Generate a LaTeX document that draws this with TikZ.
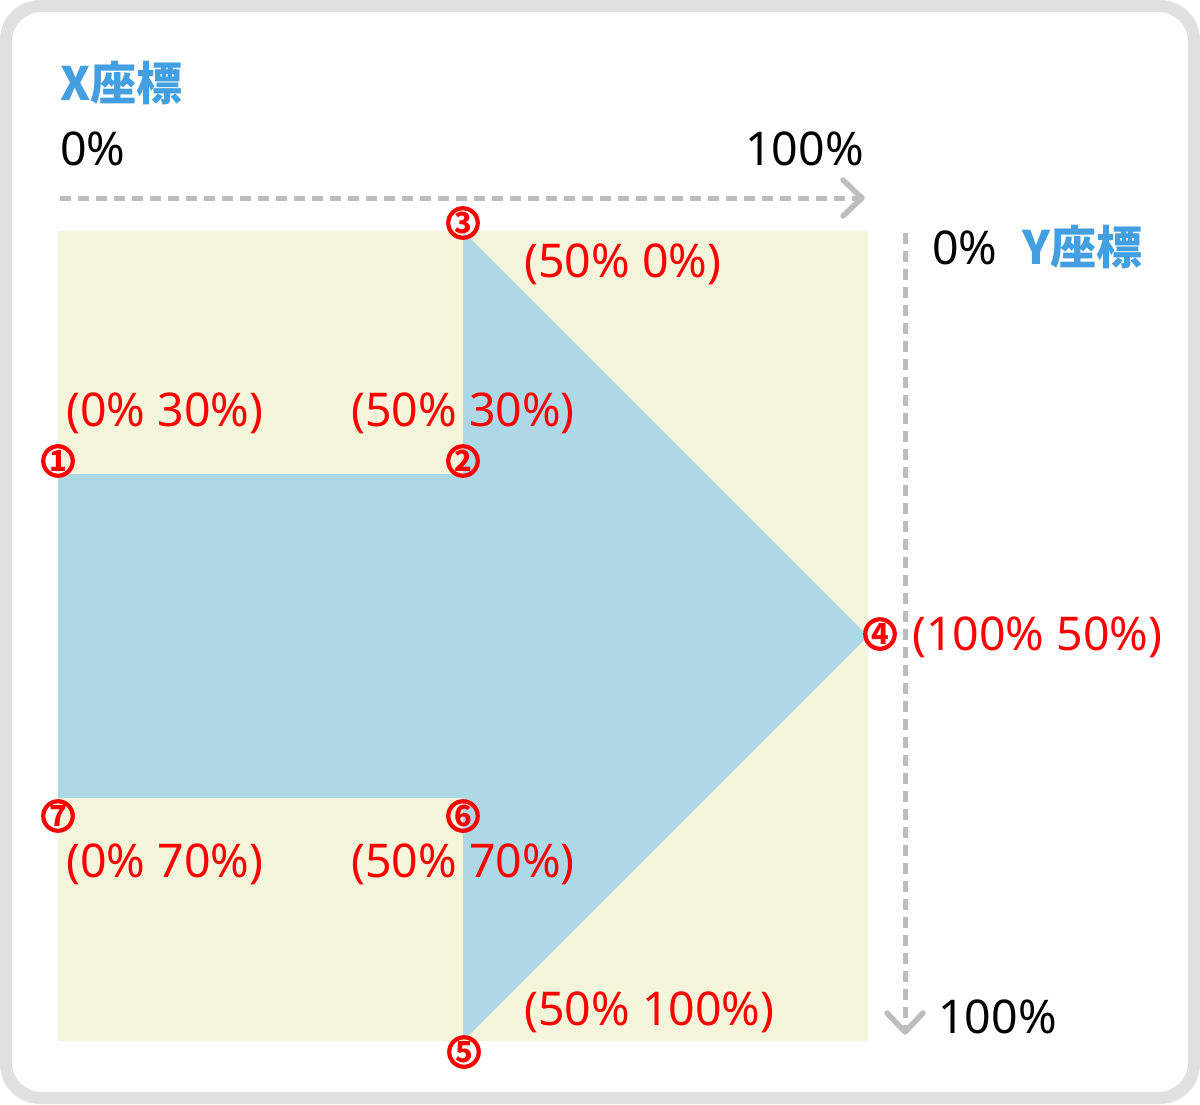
\documentclass[tikz,border=0pt]{standalone}
\usepackage{fontspec}
\setmainfont{Noto Sans}
\newfontfamily\cjk{Noto Sans CJK JP}
\usetikzlibrary{calc}
\definecolor{frame}{HTML}{E0E0E0}
\definecolor{axisgray}{HTML}{BDBDBD}
\definecolor{areabeige}{HTML}{F5F5DC}
\definecolor{arrowblue}{HTML}{ADD8E6}
\definecolor{titleblue}{HTML}{449FE0}
\definecolor{ptred}{HTML}{FF0000}
\begin{document}
\begin{tikzpicture}[x=1pt,y=-1pt,
  lbl/.style={inner sep=0pt,font=\fontsize{46.5}{56}\selectfont},
  coordlbl/.style={lbl,text=ptred},
  title/.style={inner sep=0pt,text=titleblue,font=\cjk\bfseries\fontsize{46}{54}\selectfont},
  num/.style={circle,draw=ptred,line width=4.2pt,minimum size=29.5pt,inner sep=0pt,text=ptred,
    font=\cjk\bfseries\fontsize{29}{29}\selectfont},
  axisline/.style={draw=axisgray,line width=5pt,dash pattern=on 11pt off 7pt},
  chev/.style={draw=axisgray,line width=5.5pt,line cap=round,line join=round}]
\useasboundingbox (0,0) rectangle (1200,1104);
\fill[frame,rounded corners=40pt] (0,0) rectangle (1200,1104);
\fill[white,rounded corners=30pt] (12,12) rectangle (1188,1092);
% area
\fill[areabeige] (58,231) rectangle (868,1041);
% arrow polygon
\coordinate (p1) at (58,474);
\coordinate (p2) at (463,474);
\coordinate (p3) at (463,231);
\coordinate (p4) at (868,636);
\coordinate (p5) at (463,1041);
\coordinate (p6) at (463,798);
\coordinate (p7) at (58,798);
\fill[arrowblue] (p1) -- (p2) -- (p3) -- (p4) -- (p5) -- (p6) -- (p7) -- cycle;
% axes
\coordinate (xs) at (60,198);
\coordinate (xe) at (862,198);
\coordinate (ys) at (905,233);
\coordinate (ye) at (905,1032);
\path[axisline] (xs) -- ($(xe)+(-4,0)$);
\path[chev] ($(xe)+(-19,-18)$) -- (xe) -- ($(xe)+(-19,18)$);
\path[axisline] (ys) -- ($(ye)+(0,-4)$);
\path[chev] ($(ye)+(-18,-19)$) -- (ye) -- ($(ye)+(18,-19)$);
% titles and axis labels
\node[title,anchor=base west] (xt) at (60,100) {X座標};
\node[lbl,anchor=base west] (x0) at (60,165) {0\%};
\node[lbl,anchor=base east] (x100) at (864,165) {100\%};
\node[lbl,anchor=base west] (y0) at (932,264) {0\%};
\node[title,anchor=base west] (yt) at (1022,264) {Y座標};
\node[lbl,anchor=base west] (y100) at (938,1033) {100\%};
% coordinate labels
\node[coordlbl,anchor=base west] (l3) at (524,277) {(50\% 0\%)};
\node[coordlbl,anchor=base west] (l1) at (66,426) {(0\% 30\%)};
\node[coordlbl,anchor=base west] (l2) at (351,426) {(50\% 30\%)};
\node[coordlbl,anchor=base west] (l4) at (912,650) {(100\% 50\%)};
\node[coordlbl,anchor=base west] (l7) at (66,877) {(0\% 70\%)};
\node[coordlbl,anchor=base west] (l6) at (351,877) {(50\% 70\%)};
\node[coordlbl,anchor=base west] (l5) at (524,1025) {(50\% 100\%)};
% numbered points
\node[num] (n1) at (58,461) {1};
\node[num] (n2) at (463,461) {2};
\node[num] (n3) at (463,223) {3};
\node[num] (n4) at (880,634) {4};
\node[num] (n5) at (464,1052) {5};
\node[num] (n6) at (463,816) {6};
\node[num] (n7) at (58,816) {7};
\end{tikzpicture}
\end{document}
